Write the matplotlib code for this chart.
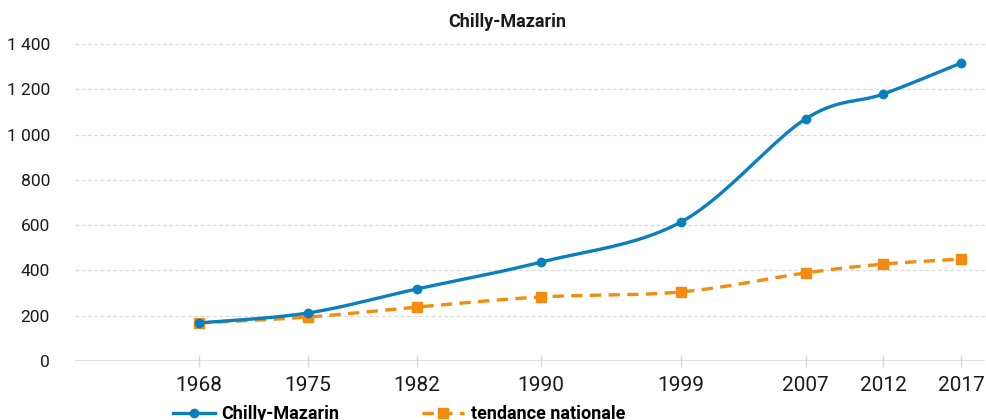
import numpy as np
import matplotlib
matplotlib.use("Agg")
import matplotlib.pyplot as plt
from matplotlib.ticker import FuncFormatter

plt.rcParams['font.family'] = ['Roboto', 'DejaVu Sans']

years = [1968, 1975, 1982, 1990, 1999, 2007, 2012, 2017]
year_labels = [str(y) for y in years]
chilly = [168, 212, 318, 437, 614, 1069, 1179, 1316]
national = [168, 194, 238, 283, 305, 389, 428, 450]
y_ticks = [0, 200, 400, 600, 800, 1000, 1200, 1400]

title = "Chilly-Mazarin"
series_names = ["Chilly-Mazarin", "tendance nationale"]

BLUE = "#0a7fbf"
ORANGE = "#f28c0f"
GRID = "#d9d9d9"

W, H, DPI = 987, 420, 100
XLIM = (1960.03, 2018.54)
YLIM = (0, 1400)

fig = plt.figure(figsize=(W / DPI, H / DPI), dpi=DPI)
ax = fig.add_axes([75 / W, 1 - 361 / H, (985 - 75) / W, (361 - 44) / H])
ax.set_xlim(*XLIM)
ax.set_ylim(*YLIM)

# pixel scale of the axes, used so the smoothing works in screen space
sx = ax.get_position().width * W / (XLIM[1] - XLIM[0])
sy = ax.get_position().height * H / (YLIM[1] - YLIM[0])


def smooth(xs, ys, n=40):
    """Catmull-Rom style curve through the points (Bezier segments)."""
    P = np.column_stack([np.asarray(xs, float) * sx, np.asarray(ys, float) * sy])
    P = np.vstack([P[0], P, P[-1]])
    out = []
    t = np.linspace(0, 1, n)[:, None]
    for i in range(1, len(P) - 2):
        p0, p1, p2, p3 = P[i - 1], P[i], P[i + 1], P[i + 2]
        c1 = p1 + (p2 - p0) / 6.0
        c2 = p2 - (p3 - p1) / 6.0
        seg = ((1 - t) ** 3) * p1 + 3 * ((1 - t) ** 2) * t * c1 + 3 * (1 - t) * t ** 2 * c2 + t ** 3 * p2
        out.append(seg if i == 1 else seg[1:])
    seg = np.vstack(out)
    return seg[:, 0] / sx, seg[:, 1] / sy


# gridlines
for v in y_ticks[1:]:
    ax.axhline(v, color=GRID, lw=0.9, ls=(0, (3, 2)), zorder=0)
ax.axhline(0, color=GRID, lw=1.2, zorder=0)

# national trend
nx, ny = smooth(years, national)
ax.plot(nx, ny, color=ORANGE, lw=2.4, ls=(0, (3.4, 2.2)), zorder=3, solid_capstyle='butt')
ax.plot(years, national, ls='none', marker='s', ms=7, color=ORANGE, zorder=4, clip_on=False)

# commune
cx, cy = smooth(years, chilly)
ax.plot(cx, cy, color=BLUE, lw=2.4, zorder=5)
ax.plot(years, chilly, ls='none', marker='o', ms=6, color=BLUE, zorder=6, clip_on=False)

for s in ax.spines.values():
    s.set_visible(False)

ax.set_xticks(years)
ax.set_xticklabels(year_labels)
ax.tick_params(axis='x', direction='inout', length=8, width=1, color=GRID,
               labelsize=15, pad=7, labelcolor='#1a1a1a')
ax.set_yticks(y_ticks)
ax.yaxis.set_major_formatter(FuncFormatter(lambda v, p: f"{int(v):,}".replace(",", " ")))
ax.tick_params(axis='y', length=0, labelsize=12.5, pad=18, labelcolor='#1a1a1a')

fig.text(507 / W, 1 - 22 / H, title, ha='center', va='center',
         fontsize=13, fontweight='bold', color='#1a1a1a')

# legend along the bottom edge
h1, = plt.plot([], [], color=BLUE, lw=2.4, marker='o', ms=6)
h2, = plt.plot([], [], color=ORANGE, lw=2.4, ls=(0, (3.4, 2.2)), marker='s', ms=7)
fig.legend([h1, h2], series_names, loc='center left',
           bbox_to_anchor=(173 / W, 1 - 414 / H), ncol=2, frameon=False,
           borderpad=0, borderaxespad=0, handlelength=2.3, handletextpad=0.38,
           columnspacing=4.6, prop={'size': 13, 'weight': 'bold'})

fig.savefig("out.png", dpi=DPI)
